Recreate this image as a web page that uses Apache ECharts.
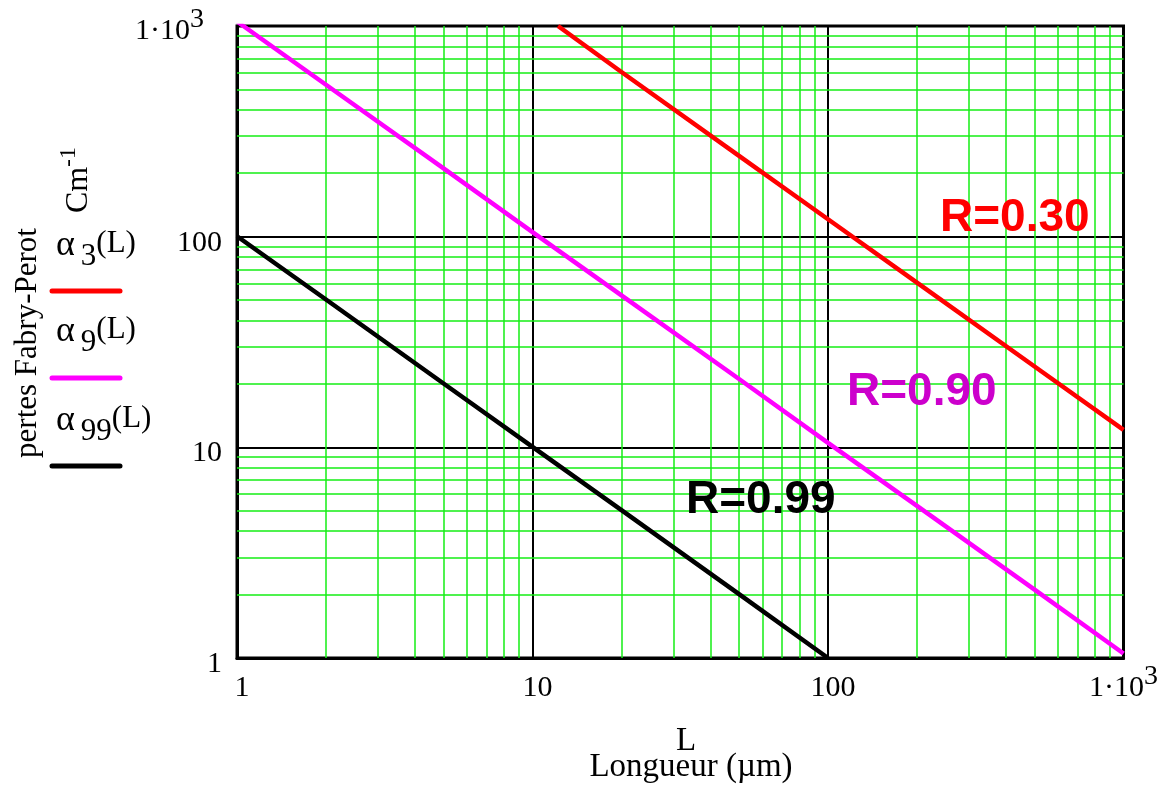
<!DOCTYPE html>
<html>
<head>
<meta charset="utf-8">
<script src="https://cdn.jsdelivr.net/npm/echarts@6/dist/echarts.min.js"></script>
<style>
  html, body { margin: 0; padding: 0; background: #fff; }
  #chart { width: 1161px; height: 794px; }
</style>
</head>
<body>
<div id="chart"></div>
<script>
// ---- data ----
const L3 = [12.2, 20, 50, 100, 200, 500, 1000];          // R = 0.30
const alpha3 = [1000, 605, 242, 121, 60.5, 24.2, 12.1];
const L9 = [1, 2, 5, 10, 20, 50, 100, 200, 500, 1000];   // R = 0.90
const alpha9 = [1050, 526, 211, 105, 52.6, 21.1, 10.5, 5.27, 2.11, 1.05];
const L99 = [1, 2, 5, 10, 20, 50, 100];                  // R = 0.99
const alpha99 = [100.5, 50.3, 20.1, 10.05, 5.03, 2.01, 1.0];

const tickValues = [1, 10, 100, 1000];
const tickLabels = ['1', '10', '100', '1·10|3'];   // base|superscript
const minorGrid = [2, 3, 4, 5, 6, 7, 8, 9, 20, 30, 40, 50, 60, 70, 80, 90, 200, 300, 400, 500, 600, 700, 800, 900];
const seriesSubs = ['3', '9', '99'];
const annotations = ['R=0.30', 'R=0.90', 'R=0.99'];

const SERIF = "'Liberation Serif', 'Times New Roman', serif";
const SANS = "'Liberation Sans', Arial, sans-serif";

function labelFor(v) {
  const i = tickValues.indexOf(Math.round(v));
  if (i < 0) return '';
  const t = tickLabels[i];
  if (t.indexOf('|') >= 0) {
    const p = t.split('|');
    return '{a|' + p[0] + '}{s|' + p[1] + '}';
  }
  return '{n|' + t + '}';
}

const pair = (xs, ys) => xs.map((x, i) => [x, ys[i]]);

const chart = echarts.init(document.getElementById('chart'), null, { renderer: 'canvas' });

const gridLineStyle = { color: '#14ee14', width: 1.5, type: 'solid' };

const option = {
  animation: false,
  backgroundColor: '#fff',
  grid: { left: 237, right: 37, top: 26, bottom: 136, show: true, borderColor: '#000', borderWidth: 3, backgroundColor: 'transparent' },
  xAxis: {
    type: 'log', logBase: 10, min: 1, max: 1000,
    axisLine: { show: true, lineStyle: { color: '#000', width: 3 } },
    axisTick: { show: false },
    splitLine: { show: true, lineStyle: { color: '#000', width: 2 } },
    axisLabel: {
      show: true, showMinLabel: true, showMaxLabel: true,
      margin: 45, verticalAlign: 'bottom',
      formatter: v => labelFor(v),
      rich: {
        n: { fontFamily: SERIF, fontSize: 30, color: '#000', padding: [0, 0, 0, 10] },
        a: { fontFamily: SERIF, fontSize: 30, color: '#000', verticalAlign: 'bottom' },
        s: { fontFamily: SERIF, fontSize: 28, color: '#000', verticalAlign: 'top', padding: [0, 0, 12, 0] }
      }
    }
  },
  yAxis: {
    type: 'log', logBase: 10, min: 1, max: 1000,
    axisLine: { show: true, lineStyle: { color: '#000', width: 3 } },
    axisTick: { show: false },
    splitLine: { show: true, lineStyle: { color: '#000', width: 2 } },
    axisLabel: {
      show: true, showMinLabel: true, showMaxLabel: true,
      margin: 15,
      formatter: v => labelFor(v),
      rich: {
        n: { fontFamily: SERIF, fontSize: 30, color: '#000', padding: [12, 0, 0, 0] },
        a: { fontFamily: SERIF, fontSize: 30, color: '#000', verticalAlign: 'bottom' },
        s: { fontFamily: SERIF, fontSize: 28, color: '#000', verticalAlign: 'top', padding: [0, 18, 12, 0] }
      }
    }
  },
  series: [
    {
      type: 'line', name: 'grid', data: [[1, 1]], symbol: 'none', silent: true, z: 1,
      lineStyle: { opacity: 0 },
      markLine: {
        silent: true, symbol: ['none', 'none'], animation: false,
        label: { show: false },
        lineStyle: gridLineStyle,
        emphasis: { disabled: true },
        data: minorGrid.map(v => ({ xAxis: v })).concat(minorGrid.map(v => ({ yAxis: v })))
      }
    },
    { type: 'line', name: 'α3(L)', data: pair(L3, alpha3), symbol: 'none', z: 5, clip: true,
      lineStyle: { color: '#ff0000', width: 4.5 } },
    { type: 'line', name: 'α9(L)', data: pair(L9, alpha9), symbol: 'none', z: 5, clip: true,
      lineStyle: { color: '#ff00ff', width: 4.5 } },
    { type: 'line', name: 'α99(L)', data: pair(L99, alpha99), symbol: 'none', z: 5, clip: true,
      lineStyle: { color: '#000000', width: 4.5 } }
  ],
  graphic: [
    // y title
    { type: 'text', x: 28, y: 343, rotation: Math.PI / 2, z: 10,
      style: { text: 'pertes Fabry-Perot', font: '31px ' + SERIF, fill: '#000', align: 'center', verticalAlign: 'middle' } },
    { type: 'text', x: 76, y: 180, rotation: Math.PI / 2, z: 10,
      style: { text: '{c|Cm}{e|-1}', align: 'center', verticalAlign: 'middle',
        rich: {
          c: { fontFamily: SERIF, fontSize: 32, fill: '#000', verticalAlign: 'bottom' },
          e: { fontFamily: SERIF, fontSize: 24, fill: '#000', verticalAlign: 'top', padding: [0, 0, 14, 0] }
        } } },
    // legend labels
    ...[228, 314, 403].map((yy, i) => ({
      type: 'text', x: 56, y: yy, z: 10,
      style: {
        text: '{al|α}{b|' + seriesSubs[i] + '}{g|(L)}',
        align: 'left', verticalAlign: 'top',
        rich: {
          al: { fontFamily: SERIF, fontSize: 36, height: 36, fill: '#000', verticalAlign: 'top' },
          g: { fontFamily: SERIF, fontSize: 31, fill: '#000', verticalAlign: 'top' },
          b: { fontFamily: SERIF, fontSize: 31, fill: '#000', verticalAlign: 'top', padding: [13, 0, 0, 6] }
        }
      }
    })),
    // legend line samples
    ...[[291, '#ff0000'], [378, '#ff00ff'], [466, '#000000']].map(([yy, c]) => ({
      type: 'line', z: 10, shape: { x1: 52, y1: yy, x2: 120, y2: yy },
      style: { stroke: c, lineWidth: 5, lineCap: 'round' }
    })),
    // x title
    { type: 'text', x: 686, y: 741, z: 10,
      style: { text: 'L', font: '33px ' + SERIF, fill: '#000', align: 'center', verticalAlign: 'middle' } },
    { type: 'text', x: 691, y: 767, z: 10,
      style: { text: 'Longueur (µm)', font: '33px ' + SERIF, fill: '#000', align: 'center', verticalAlign: 'middle' } },
    // annotations
    { type: 'text', x: 940, y: 218, z: 10,
      style: { text: annotations[0], font: 'bold 46px ' + SANS, fill: '#ff0000', align: 'left', verticalAlign: 'middle' } },
    { type: 'text', x: 847, y: 392, z: 10,
      style: { text: annotations[1], font: 'bold 46px ' + SANS, fill: '#cc00cc', align: 'left', verticalAlign: 'middle' } },
    { type: 'text', x: 686, y: 500, z: 10,
      style: { text: annotations[2], font: 'bold 46px ' + SANS, fill: '#000000', align: 'left', verticalAlign: 'middle' } }
  ]
};
chart.setOption(option);
</script>
</body>
</html>
